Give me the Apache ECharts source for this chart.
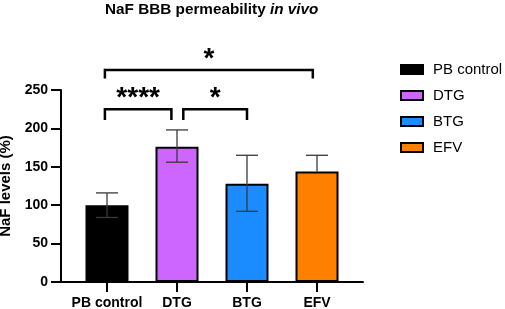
<!DOCTYPE html>
<html>
<head>
<meta charset="utf-8">
<script src="https://cdn.jsdelivr.net/npm/echarts@6/dist/echarts.min.js"></script>
<style>
  html, body { margin: 0; padding: 0; background: #fff; }
  #chart { width: 505px; height: 309px; }
</style>
</head>
<body>
<div id="chart"></div>
<script>
// groups and values
var categories = ['PB control', 'DTG', 'BTG', 'EFV'];
var means = [100, 176, 128, 144];
var errHigh = [116, 198, 165, 165];
var errLow = [84, 156, 92, 144];
var barColors = ['#000000', '#cc66ff', '#1a8cff', '#ff8000'];

// significance brackets (x in category units, y in axis units)
var bracketFrom = [-0.03, 1.09, -0.03];
var bracketTo = [0.92, 2.0, 2.94];
var bracketY = [225, 225, 276];
var bracketEnd = [211, 211, 265];
var bracketLabels = ['****', '*', '*'];

var FONT = 'Liberation Sans';

var chart = echarts.init(document.getElementById('chart'));

var series = [];
categories.forEach(function (name, i) {
    series.push({
        name: name,
        type: 'bar',
        barWidth: 43,
        barGap: '-100%',
        data: [[i, means[i]]],
        itemStyle: { color: barColors[i], borderColor: '#000', borderWidth: 2 },
        z: 2
    });
});

// error bars (lower whisker only where it is drawn in the figure)
series.push({
    type: 'custom',
    z: 5,
    silent: true,
    data: categories.map(function (c, i) { return [i, errLow[i], errHigh[i], means[i]]; }),
    renderItem: function (params, api) {
        var lo = api.coord([api.value(0), api.value(1)]);
        var hi = api.coord([api.value(0), api.value(2)]);
        var mid = api.coord([api.value(0), api.value(3)]);
        var half = 11;
        var st = { stroke: '#3a3a3a', lineWidth: 1.3 };
        var kids = [
            { type: 'line', shape: { x1: hi[0], y1: hi[1], x2: mid[0], y2: mid[1] }, style: st },
            { type: 'line', shape: { x1: hi[0] - half, y1: hi[1], x2: hi[0] + half, y2: hi[1] }, style: st }
        ];
        if (api.value(1) < api.value(3)) {
            kids.push({ type: 'line', shape: { x1: mid[0], y1: mid[1], x2: lo[0], y2: lo[1] }, style: st });
            kids.push({ type: 'line', shape: { x1: lo[0] - half, y1: lo[1], x2: lo[0] + half, y2: lo[1] }, style: st });
        }
        return { type: 'group', children: kids };
    }
});

// brackets with stars
series.push({
    type: 'custom',
    z: 6,
    silent: true,
    data: bracketFrom.map(function (f, i) { return [f, bracketTo[i], bracketY[i], bracketEnd[i]]; }),
    renderItem: function (params, api) {
        var i = params.dataIndex;
        var a = api.coord([api.value(0), api.value(2)]);
        var b = api.coord([api.value(1), api.value(2)]);
        var e = api.coord([api.value(0), api.value(3)]);
        return {
            type: 'group',
            children: [
                {
                    type: 'polyline',
                    shape: { points: [[a[0], e[1]], a, b, [b[0], e[1]]] },
                    style: { stroke: '#000', lineWidth: 2.5, fill: null }
                },
                {
                    type: 'text',
                    x: (a[0] + b[0]) / 2,
                    y: a[1] + 3,
                    style: {
                        text: bracketLabels[i],
                        fontFamily: FONT,
                        fontWeight: 'bold',
                        fontSize: 28,
                        fill: '#000',
                        align: 'center',
                        verticalAlign: 'bottom'
                    }
                }
            ]
        };
    }
});

var option = {
    animation: false,
    title: {
        text: '{b|NaF BBB permeability }{i|in vivo}',
        left: 100,
        top: -3,
        textStyle: {
            rich: {
                b: { fontFamily: FONT, fontWeight: 'bold', fontSize: 15.3, color: '#000' },
                i: { fontFamily: FONT, fontWeight: 'bold', fontStyle: 'italic', fontSize: 15.3, color: '#000' }
            }
        }
    },
    legend: {
        orient: 'vertical',
        left: 395,
        top: 57,
        itemWidth: 22,
        itemHeight: 9,
        itemGap: 11,
        icon: 'rect',
        data: categories,
        textStyle: { fontFamily: FONT, fontSize: 15, color: '#000', padding: [0, 0, 0, 5] }
    },
    grid: { left: 61, right: 142, top: 90, bottom: 27, containLabel: false, outerBoundsMode: 'none' },
    xAxis: {
        type: 'value',
        min: -0.657,
        max: 3.657,
        splitLine: { show: false },
        axisLine: { show: true, onZero: false, lineStyle: { color: '#000', width: 2 } },
        axisTick: { show: true, customValues: [0, 1, 2, 3], length: 10, lineStyle: { color: '#000', width: 2 } },
        axisLabel: {
            customValues: [0, 1, 2, 3],
            formatter: function (v) { return categories[Math.round(v)]; },
            fontFamily: FONT, fontWeight: 'bold', fontSize: 14, color: '#000', margin: 14
        }
    },
    yAxis: {
        type: 'value',
        min: 0,
        max: 250,
        interval: 50,
        name: 'NaF levels (%)',
        nameLocation: 'middle',
        nameGap: 43,
        nameTextStyle: { fontFamily: FONT, fontWeight: 'bold', fontSize: 15, color: '#000' },
        splitLine: { show: false },
        axisLine: { show: true, onZero: false, lineStyle: { color: '#000', width: 2 } },
        axisTick: { show: true, length: 10, lineStyle: { color: '#000', width: 2 } },
        axisLabel: { fontFamily: FONT, fontWeight: 'bold', fontSize: 14, color: '#000', margin: 13 }
    },
    series: series
};

chart.setOption(option);
</script>
</body>
</html>
